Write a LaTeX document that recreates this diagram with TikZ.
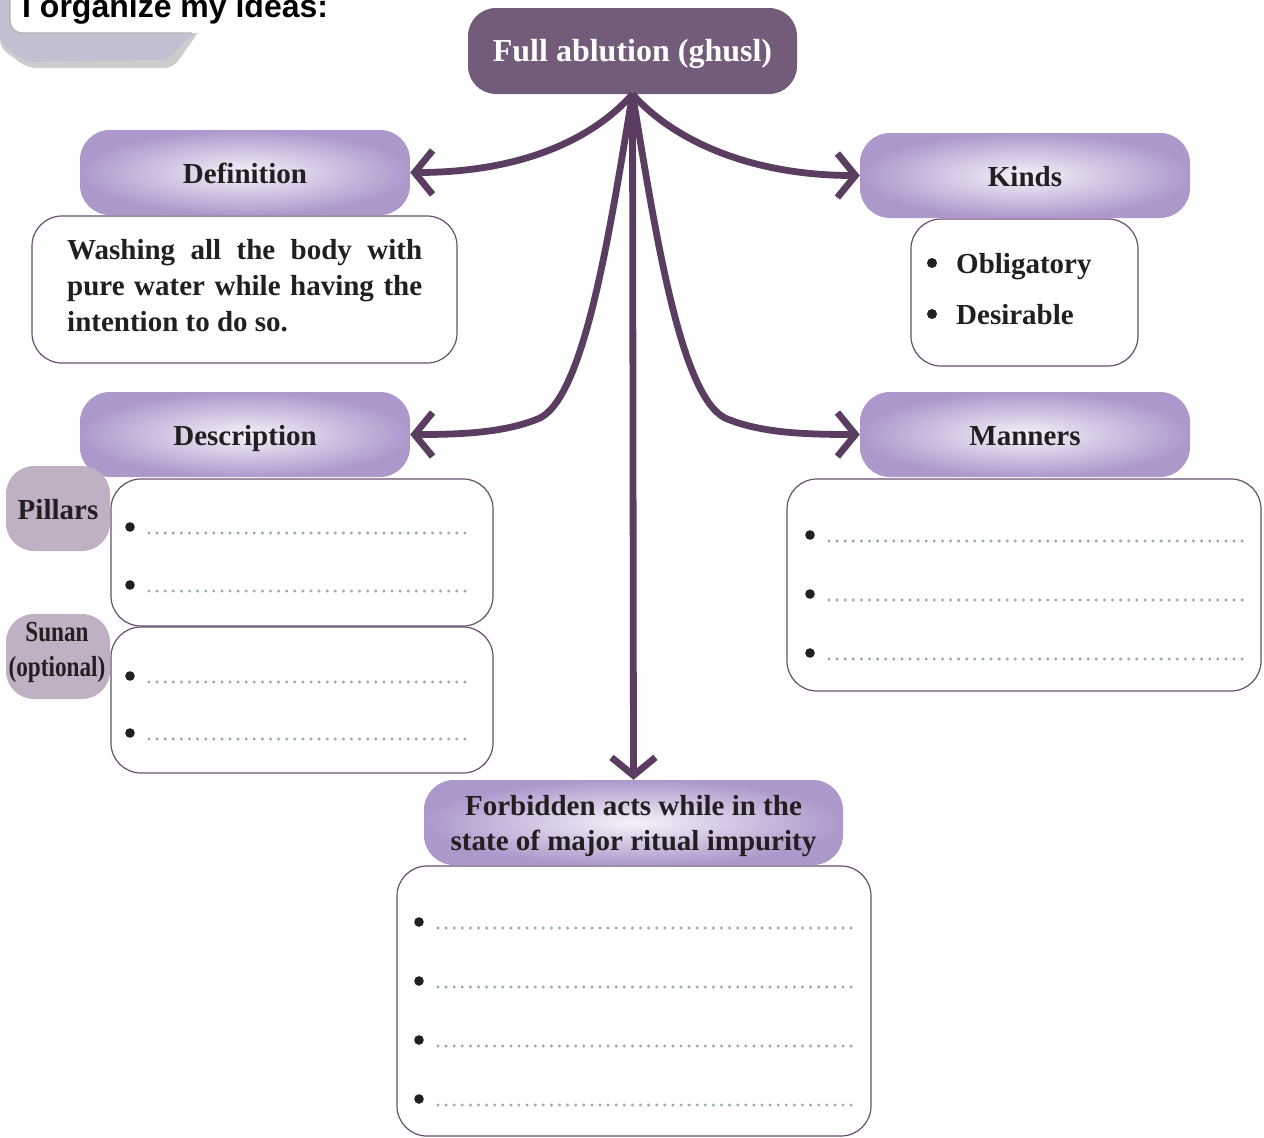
\documentclass[tikz,border=0pt]{standalone}
\usepackage{fontspec}
\setmainfont{Liberation Serif}
\newfontfamily\titlefont{Liberation Sans}
\usetikzlibrary{arrows.meta}
\definecolor{topfill}{HTML}{735C7A}
\definecolor{arrowcol}{HTML}{5B3D62}
\definecolor{lav}{HTML}{AD98CC}
\definecolor{lavin}{HTML}{F5F2F9}
\definecolor{boxline}{HTML}{6A4E70}
\definecolor{labfill}{HTML}{BFB1C3}
\definecolor{dotcol}{HTML}{93ABB6}
\definecolor{ink}{HTML}{231F20}
\definecolor{tabcol}{HTML}{C3BFD2}
\begin{document}
\begin{tikzpicture}[x=1pt,y=-1pt,
 bodyfont/.style={font=\fontsize{29}{36}\selectfont\bfseries, text=ink},
 header/.style={rounded corners=30pt, inner sep=0pt, inner color=lavin, outer color=lav, bodyfont, minimum width=330pt, minimum height=85pt, text height=22pt, text depth=0pt},
 ansbox/.style={draw=boxline, line width=1.2pt, fill=white, rounded corners=30pt, inner sep=0pt},
 sidelab/.style={fill=labfill, rounded corners=28pt, inner sep=0pt, minimum width=104pt, minimum height=85pt, bodyfont, align=center},
 conn/.style={draw=arrowcol, line width=6.8pt, -{Straight Barb[length=18pt,width=44pt,sharp]}},
 dotline/.style={dotcol, line width=3.3pt, line cap=round, dash pattern=on 0pt off 8.1pt},
 bul/.style={fill=ink},
 txt/.style={bodyfont, anchor=base west, inner sep=0pt}
]
\useasboundingbox (0,0) rectangle (1264,1138);

% title tab
\fill[gray!40, rounded corners=8pt] (0,30) -- (200,30) -- (173,68) -- (28,68) -- (0,48) -- cycle;
\fill[tabcol, rounded corners=8pt] (0,-10) -- (200,-10) -- (200,33) -- (192,33) -- (168,60) -- (25,62) -- (0,42) -- cycle;
\fill[white, rounded corners=12pt] (10,-20) -- (10,33) -- (212,33) -- (212,-20) -- cycle;
\draw[gray!60, line width=1.2pt, rounded corners=12pt] (10,-20) -- (10,33) -- (192,33);
\node[font=\titlefont\fontsize{32}{38}\selectfont\bfseries, anchor=base west, inner sep=0pt] (title) at (22,17) {I organize my ideas:};

% top node
\node[fill=topfill, rounded corners=28pt, inner sep=0pt, minimum width=329pt, minimum height=86pt, text height=21pt, text depth=0pt, text=white, font=\fontsize{32}{38}\selectfont\bfseries] (top) at (632.5,51) {Full ablution (ghusl)};

% answer boxes
\node[ansbox, minimum width=425pt, minimum height=147pt] (defb) at (244.5,289.5) {};
\node[ansbox, minimum width=227pt, minimum height=147pt] (kindb) at (1024.5,292.5) {};
\node[ansbox, minimum width=382pt, minimum height=147pt] (pilb) at (302,552.5) {};
\node[ansbox, minimum width=382pt, minimum height=146pt] (sunb) at (302,700) {};
\node[ansbox, minimum width=474pt, minimum height=212pt] (manb) at (1024,585) {};
\node[ansbox, minimum width=474pt, minimum height=270pt] (forb) at (634,1001) {};

% headers
\node[header] (defh) at (245,172.5) {Definition};
\node[header] (kindh) at (1025,175.5) {Kinds};
\node[header] (desch) at (245,434.5) {Description};
\node[header] (manh) at (1025,434.5) {Manners};
\node[header, minimum width=419pt] (forh) at (633.5,822.5) {};
\node[txt, anchor=base] (forl1) at (633.5,815) {Forbidden acts while in the};
\node[txt, anchor=base] (forl2) at (633.5,850) {state of major ritual impurity};

% side labels
\node[sidelab, text height=22pt, text depth=0pt] (pill) at (58,508.5) {Pillars};
\node[sidelab] (sunl) at (58,656.5) {};
\node[txt, anchor=base] (sun1) at (57,641.5) {\scalebox{0.8}[1]{Sunan}};
\node[txt, anchor=base] (sun2) at (57,676) {\scalebox{0.8}[1]{(optional)}};

% definition text
\node[txt] (defl1) at (67,259) {\makebox[355pt][s]{Washing all the body with}};
\node[txt] (defl2) at (67,295) {\makebox[355pt][s]{pure water while having the}};
\node[txt] (defl3) at (67,331) {intention to do so.};

% kinds
\fill[bul] (932,263) circle (5pt);
\fill[bul] (932,314) circle (5pt);
\node[txt] (obl) at (956,273) {Obligatory};
\node[txt] (desi) at (956,324) {Desirable};

% bullets and dotted lines
\foreach \y in {527,585,676,733} {
  \fill[bul] (130,\y) circle (4.8pt);
  \draw[dotline] (149,\y+6) -- (467,\y+6);
}
\foreach \y in {535,594,653} {
  \fill[bul] (810,\y) circle (4.8pt);
  \draw[dotline] (829,\y+6) -- (1243,\y+6);
}
\foreach \y in {922,981,1040,1099} {
  \fill[bul] (419,\y) circle (4.8pt);
  \draw[dotline] (438,\y+6) -- (852,\y+6);
}

% connectors
\draw[conn] (top.south) .. controls (592,140) and (520,172.5) .. (defh.east);
\draw[conn] (top.south) .. controls (673,140) and (750,175.5) .. (kindh.west);
\draw[conn] (top.south) .. controls (610,230) and (585,395) .. (540,418) .. controls (505,433) and (460,434.5) .. (desch.east);
\draw[conn] (top.south) .. controls (655,230) and (680,395) .. (725,418) .. controls (760,433) and (805,434.5) .. (manh.west);
\draw[conn] (top.south) -- (forh.north);
\end{tikzpicture}
\end{document}
